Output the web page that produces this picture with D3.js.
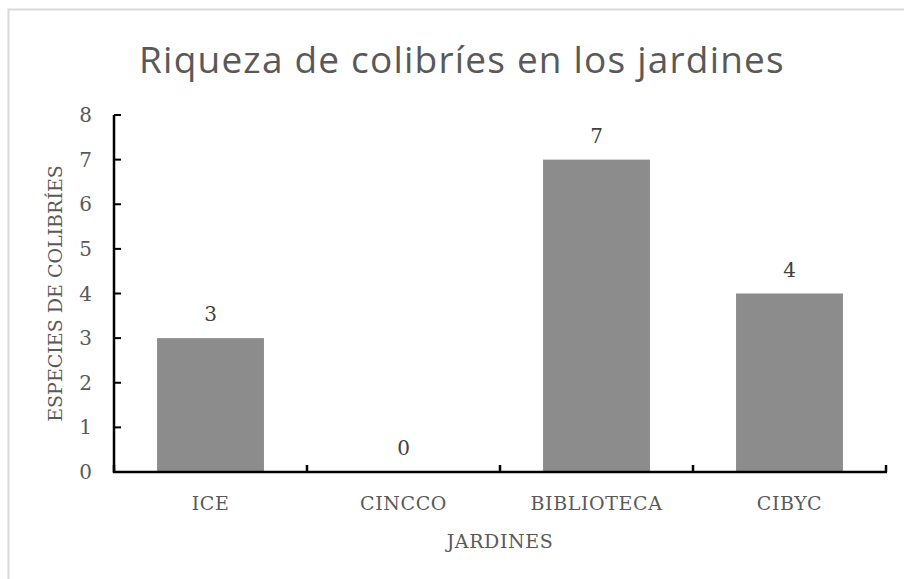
<!DOCTYPE html>
<html>
<head>
<meta charset="UTF-8">
<title>Riqueza de colibríes en los jardines</title>
<style>
    body { margin: 0; background: white; }
    svg { display: block; }
    .frame { fill: none; stroke: #d9d9d9; stroke-width: 2px; }
    .title { font-family: "Open Sans", sans-serif; font-size: 37px; letter-spacing: 1.2px; fill: #595959; }
    .lbl { font-family: "DejaVu Serif", serif; font-size: 19px; letter-spacing: 0.6px; fill: #595959; }
    .num { font-family: "DejaVu Serif", serif; font-size: 20px; fill: #595959; }
    .val { font-family: "DejaVu Serif", serif; font-size: 20px; fill: #404040; }
</style>
</head>
<body>
<script src="https://d3js.org/d3.v7.min.js"></script>
<script>
    // data
    var jardines = ["ICE", "CINCCO", "BIBLIOTECA", "CIBYC"];
    var especies = [3, 0, 7, 4];
    var yTicks = [0, 1, 2, 3, 4, 5, 6, 7, 8];

    var width = 904, height = 579;
    var mLeft = 114, mRight = 886, mTop = 115, mBottom = 472;

    var svg = d3.select("body").append("svg")
        .attr("width", width)
        .attr("height", height);

    svg.append("rect").attr("class", "frame")
        .attr("x", 8.5).attr("y", 9.5)
        .attr("width", 1000).attr("height", 1000);

    svg.append("text").attr("class", "title")
        .attr("x", 462).attr("y", 73)
        .attr("text-anchor", "middle")
        .text("Riqueza de colibríes en los jardines");

    var x = d3.scaleBand().domain(jardines).range([mLeft, mRight])
        .paddingInner(0.446).paddingOuter(0.223);
    var y = d3.scaleLinear().domain([0, 8]).range([mBottom, mTop]);

    // bars
    svg.selectAll(".bar").data(especies).enter().append("rect")
        .attr("class", "bar")
        .attr("x", function(d, i) { return x(jardines[i]); })
        .attr("y", function(d) { return y(d); })
        .attr("width", x.bandwidth())
        .attr("height", function(d) { return mBottom - y(d); })
        .attr("fill", "#8c8c8c");

    svg.selectAll(".val").data(especies).enter().append("text")
        .attr("class", "val")
        .attr("x", function(d, i) { return x(jardines[i]) + x.bandwidth() / 2; })
        .attr("y", function(d) { return y(d) - 17; })
        .attr("text-anchor", "middle")
        .text(function(d) { return d; });

    // y axis, ticks pointing inward
    svg.append("line")
        .attr("x1", mLeft).attr("x2", mLeft)
        .attr("y1", mTop).attr("y2", mBottom + 1)
        .attr("stroke", "black").attr("stroke-width", 2.5);
    svg.selectAll(".yt").data(yTicks).enter().append("line")
        .attr("x1", mLeft).attr("x2", mLeft + 7)
        .attr("y1", function(d) { return y(d); }).attr("y2", function(d) { return y(d); })
        .attr("stroke", "black").attr("stroke-width", 2);

    svg.selectAll(".ytl").data(yTicks).enter().append("text")
        .attr("class", "num")
        .attr("x", 92)
        .attr("y", function(d) { return y(d) + 7; })
        .attr("text-anchor", "end")
        .text(function(d) { return d; });

    // x axis, ticks between categories
    var bounds = d3.range(jardines.length + 1).map(function(i) { return mLeft + i * x.step(); });
    svg.append("line")
        .attr("x1", mLeft - 1).attr("x2", mRight + 1)
        .attr("y1", mBottom).attr("y2", mBottom)
        .attr("stroke", "black").attr("stroke-width", 2.5);
    svg.selectAll(".xt").data(bounds).enter().append("line")
        .attr("x1", function(d) { return d; }).attr("x2", function(d) { return d; })
        .attr("y1", mBottom).attr("y2", mBottom - 7)
        .attr("stroke", "black").attr("stroke-width", 2.5);

    svg.selectAll(".xtl").data(jardines).enter().append("text")
        .attr("class", "lbl xtl")
        .attr("x", function(d) { return x(d) + x.bandwidth() / 2; })
        .attr("y", 510)
        .attr("text-anchor", "middle")
        .text(function(d) { return d; });

    svg.append("text").attr("class", "lbl")
        .attr("x", (mLeft + mRight) / 2).attr("y", 548)
        .attr("text-anchor", "middle")
        .text("JARDINES");

    svg.append("text").attr("class", "lbl")
        .attr("transform", "translate(62," + ((mTop + mBottom) / 2) + ") rotate(-90)")
        .attr("text-anchor", "middle")
        .style("letter-spacing", "0px")
        .text("ESPECIES DE COLIBRÍES");
</script>
</body>
</html>
